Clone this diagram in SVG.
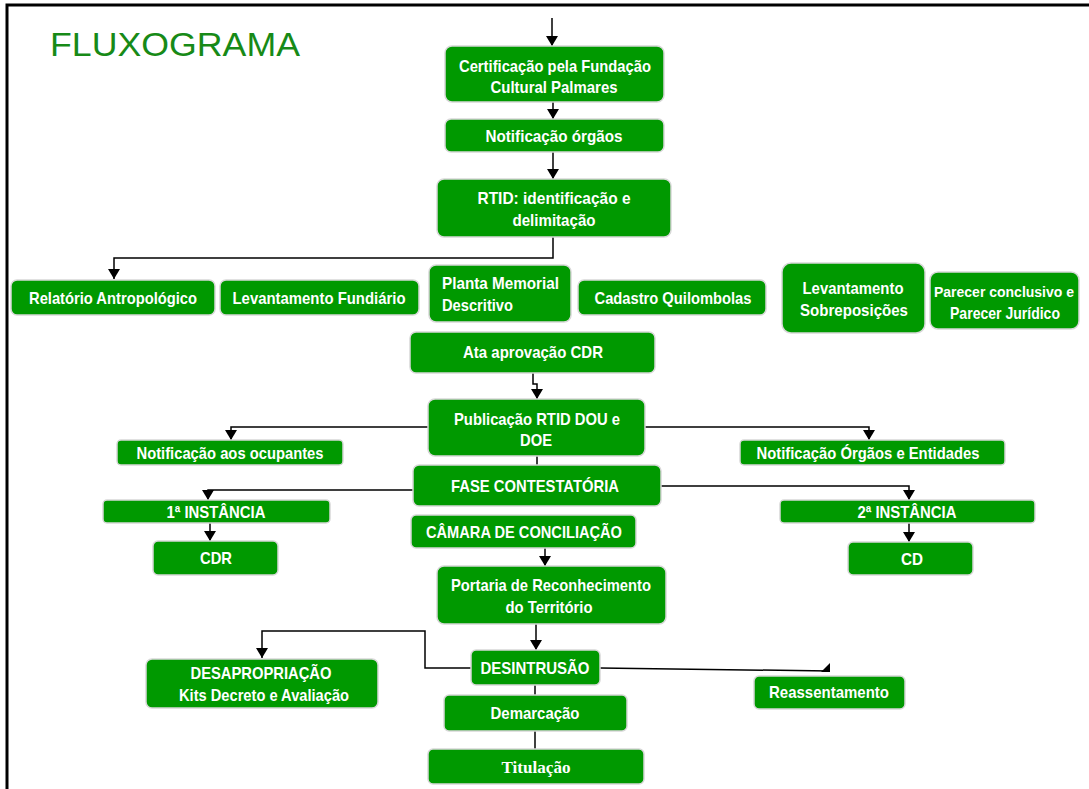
<svg xmlns="http://www.w3.org/2000/svg" width="1089" height="789" viewBox="0 0 1089 789">
<defs>
<style>
.b{fill:#009900;stroke:#d8d8d8;stroke-width:1.5}
.t{font-family:"Liberation Sans Narrow","Liberation Sans",Arial,sans-serif;font-weight:bold;font-size:17px;fill:#fff;text-anchor:middle}
.c{fill:none;stroke:#000;stroke-width:1.5}
</style>
<marker id="a" viewBox="0 0 10 12" refX="10" refY="6" markerWidth="10" markerHeight="12" orient="auto" markerUnits="userSpaceOnUse">
<path d="M0,0 L10,6 L0,12 Z" fill="#000"/>
</marker>
</defs>
<rect width="1089" height="789" fill="#fff"/>
<path d="M7,789 V5 H1089" fill="none" stroke="#000" stroke-width="3"/>
<text x="50" y="56" font-family="Liberation Sans,Arial,sans-serif" font-size="34" fill="#178a17" textLength="250" lengthAdjust="spacingAndGlyphs">FLUXOGRAMA</text>

<g id="connectors">
<path class="c" d="M552,18 V46" marker-end="url(#a)"/>
<path class="c" d="M553,102 V119" marker-end="url(#a)"/>
<path class="c" d="M553,152 V179" marker-end="url(#a)"/>
<path class="c" d="M553,237 V258 H114 V279" marker-end="url(#a)"/>
<path class="c" d="M533,373 V384 H537 V399" marker-end="url(#a)"/>
<path class="c" d="M428,427 H231 V440" marker-end="url(#a)"/>
<path class="c" d="M645,427 H869 V440" marker-end="url(#a)"/>
<path class="c" d="M537,456 V465"/>
<path class="c" d="M413,490 H208 V500" marker-end="url(#a)"/>
<path class="c" d="M661,486 H909 V500" marker-end="url(#a)"/>
<path class="c" d="M210,523 V541" marker-end="url(#a)"/>
<path class="c" d="M909,523 V542" marker-end="url(#a)"/>
<path class="c" d="M545,548 V566" marker-end="url(#a)"/>
<path class="c" d="M536,624 V650" marker-end="url(#a)"/>
<path class="c" d="M471,668 H425 V631 H262 V658" marker-end="url(#a)"/>
<path class="c" d="M600,668 L830,671"/>
<path d="M830,663 L830,672 L821,672 Z" fill="#000"/>
<path class="c" d="M535,685 V695"/>
<path class="c" d="M535,731 V749"/>
</g>

<g id="n1"><rect class="b" x="445" y="46" width="219" height="56" rx="7"/><text class="t" x="555" y="72" textLength="192" lengthAdjust="spacingAndGlyphs">Certificação pela Fundação</text><text class="t" x="554" y="93" textLength="127" lengthAdjust="spacingAndGlyphs">Cultural Palmares</text></g>
<g id="n2"><rect class="b" x="445" y="119" width="219" height="33" rx="6"/><text class="t" x="554" y="142" textLength="137" lengthAdjust="spacingAndGlyphs">Notificação  órgãos</text></g>
<g id="n3"><rect class="b" x="437" y="179" width="234" height="58" rx="7"/><text class="t" x="554" y="204" textLength="153" lengthAdjust="spacingAndGlyphs">RTID: identificação e</text><text class="t" x="554" y="226" textLength="83" lengthAdjust="spacingAndGlyphs">delimitação</text></g>
<g id="n4"><rect class="b" x="11" y="280" width="204" height="35" rx="6"/><text class="t" x="113" y="304" textLength="168" lengthAdjust="spacingAndGlyphs">Relatório Antropológico</text></g>
<g id="n5"><rect class="b" x="220" y="280" width="199" height="35" rx="6"/><text class="t" x="319" y="304" textLength="173" lengthAdjust="spacingAndGlyphs">Levantamento Fundiário</text></g>
<g id="n6"><rect class="b" x="429" y="265" width="142" height="57" rx="7"/><text class="t" x="442" y="289" style="text-anchor:start" textLength="117" lengthAdjust="spacingAndGlyphs">Planta  Memorial</text><text class="t" x="442" y="311" style="text-anchor:start" textLength="71" lengthAdjust="spacingAndGlyphs">Descritivo</text></g>
<g id="n7"><rect class="b" x="578" y="280" width="188" height="35" rx="6"/><text class="t" x="673" y="304" textLength="157" lengthAdjust="spacingAndGlyphs">Cadastro Quilombolas</text></g>
<g id="n8"><rect class="b" x="782" y="263" width="143" height="70" rx="9"/><text class="t" x="853" y="294" textLength="101" lengthAdjust="spacingAndGlyphs">Levantamento</text><text class="t" x="854" y="316" textLength="108" lengthAdjust="spacingAndGlyphs">Sobreposições</text></g>
<g id="n9"><rect class="b" x="930" y="272" width="149" height="57" rx="8"/><text class="t" x="1004" y="297" style="font-size:15px" textLength="140" lengthAdjust="spacingAndGlyphs">Parecer conclusivo e</text><text class="t" x="1005" y="319" textLength="110" lengthAdjust="spacingAndGlyphs">Parecer Jurídico</text></g>
<g id="n10"><rect class="b" x="410" y="332" width="245" height="41" rx="6"/><text class="t" x="533" y="358" textLength="140" lengthAdjust="spacingAndGlyphs">Ata  aprovação CDR</text></g>
<g id="n11"><rect class="b" x="428" y="399" width="217" height="57" rx="7"/><text class="t" x="537" y="425" textLength="166" lengthAdjust="spacingAndGlyphs">Publicação  RTID DOU e</text><text class="t" x="536" y="446" textLength="32" lengthAdjust="spacingAndGlyphs">DOE</text></g>
<g id="n12"><rect class="b" x="117" y="440" width="226" height="25" rx="4"/><text class="t" x="230" y="459" textLength="187" lengthAdjust="spacingAndGlyphs">Notificação aos ocupantes</text></g>
<g id="n13"><rect class="b" x="740" y="440" width="265" height="25" rx="4"/><text class="t" x="868" y="459" textLength="223" lengthAdjust="spacingAndGlyphs">Notificação Órgãos e Entidades</text></g>
<g id="n14"><rect class="b" x="413" y="465" width="248" height="41" rx="6"/><text class="t" x="535" y="492" textLength="168" lengthAdjust="spacingAndGlyphs">FASE CONTESTATÓRIA</text></g>
<g id="n15"><rect class="b" x="103" y="500" width="227" height="23" rx="4"/><text class="t" x="216" y="518" textLength="99" lengthAdjust="spacingAndGlyphs">1ª INSTÂNCIA</text></g>
<g id="n16"><rect class="b" x="153" y="541" width="125" height="34" rx="5"/><text class="t" x="216" y="564" textLength="32" lengthAdjust="spacingAndGlyphs">CDR</text></g>
<g id="n17"><rect class="b" x="780" y="500" width="255" height="23" rx="4"/><text class="t" x="907" y="518" textLength="99" lengthAdjust="spacingAndGlyphs">2ª INSTÂNCIA</text></g>
<g id="n18"><rect class="b" x="848" y="542" width="125" height="33" rx="5"/><text class="t" x="912" y="565" textLength="22" lengthAdjust="spacingAndGlyphs">CD</text></g>
<g id="n19"><rect class="b" x="411" y="515" width="225" height="33" rx="5"/><text class="t" x="524" y="538" textLength="196" lengthAdjust="spacingAndGlyphs">CÂMARA DE CONCILIAÇÃO</text></g>
<g id="n20"><rect class="b" x="437" y="566" width="229" height="58" rx="7"/><text class="t" x="551" y="591" textLength="200" lengthAdjust="spacingAndGlyphs">Portaria de Reconhecimento</text><text class="t" x="549" y="613" textLength="87" lengthAdjust="spacingAndGlyphs">do Território</text></g>
<g id="n21"><rect class="b" x="471" y="650" width="129" height="35" rx="5"/><text class="t" x="535" y="674" textLength="109" lengthAdjust="spacingAndGlyphs">DESINTRUSÃO</text></g>
<g id="n22"><rect class="b" x="146" y="659" width="232" height="49" rx="6"/><text class="t" x="261" y="679" textLength="141" lengthAdjust="spacingAndGlyphs">DESAPROPRIAÇÃO</text><text class="t" x="264" y="701" textLength="170" lengthAdjust="spacingAndGlyphs">Kits Decreto e Avaliação</text></g>
<g id="n23"><rect class="b" x="754" y="676" width="151" height="33" rx="5"/><text class="t" x="829" y="698" textLength="120" lengthAdjust="spacingAndGlyphs">Reassentamento</text></g>
<g id="n24"><rect class="b" x="444" y="695" width="183" height="36" rx="5"/><text class="t" x="535" y="719" textLength="89" lengthAdjust="spacingAndGlyphs">Demarcação</text></g>
<g id="n25"><rect class="b" x="428" y="749" width="216" height="35" rx="5"/><text class="t" x="536" y="773" textLength="69" lengthAdjust="spacingAndGlyphs" style="font-family:'Liberation Serif','Times New Roman',serif">Titulação</text></g>
</svg>
